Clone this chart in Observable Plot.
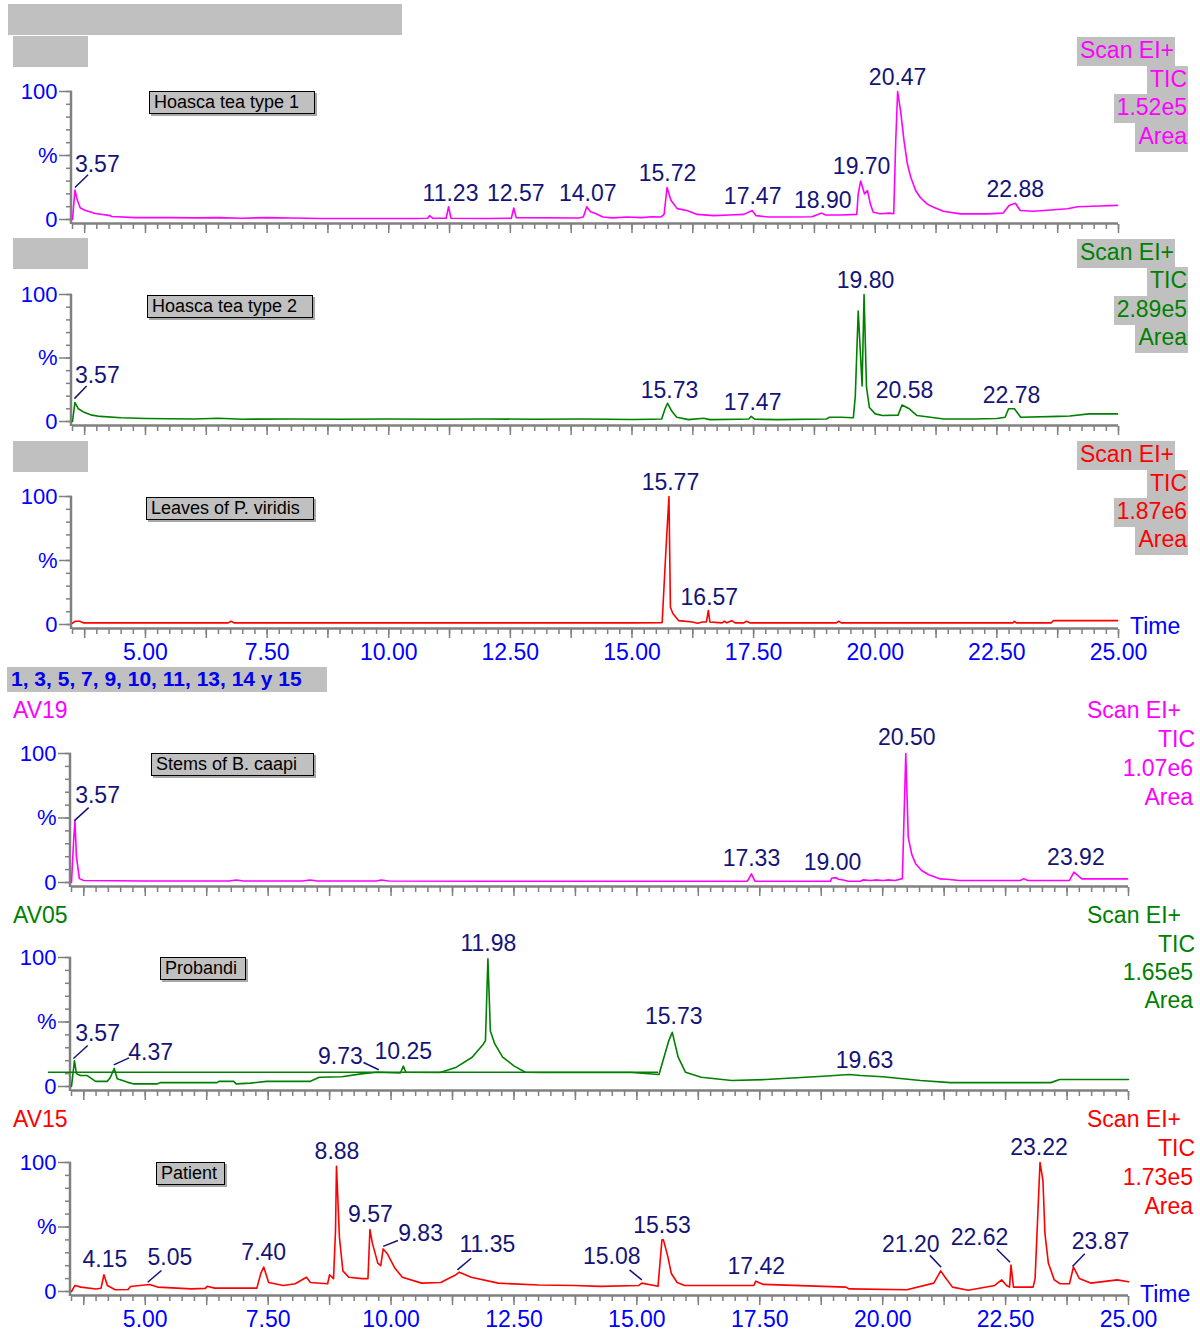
<!DOCTYPE html>
<html><head><meta charset="utf-8">
<script src="https://cdn.jsdelivr.net/npm/d3@7"></script>
<script src="https://cdn.jsdelivr.net/npm/@observablehq/plot@0.6"></script>
<style>
body{margin:0;background:#fff;font-family:"Liberation Sans",Arial,sans-serif;}
#root{position:relative;width:1200px;height:1333px;overflow:hidden;background:#fff;}
#root svg{position:absolute;left:0;}
.abs{position:absolute;white-space:nowrap;}
</style></head><body><div id="root"></div>
<script>
// ---------- DATA (time in min, intensity in %) ----------
const hoasca1 = [[3.50,0],[3.55,23],[3.60,15],[3.66,9],[3.77,7],[3.97,4.7],[4.28,3],[4.30,2.3],[4.80,1.5],[5.5,1.5],[6.0,1.3],[6.5,1.5],[7.0,1.0],[7.5,1.5],[8.0,1.2],[8.6,0.8],[9.5,0.8],[10.5,0.8],[10.80,1.0],[10.84,3],[10.90,1],[11.18,1],[11.23,10],[11.28,1],[12.0,0.8],[12.52,1],[12.57,9],[12.62,1.5],[13.9,1.2],[14.0,2],[14.07,10],[14.15,6],[14.25,4.7],[14.4,2],[14.6,1.3],[14.9,2],[15.2,1.5],[15.4,2.2],[15.6,2],[15.66,4],[15.72,25],[15.80,15],[15.93,8.5],[16.13,7],[16.34,4],[16.68,3],[17.0,3.5],[17.3,4],[17.47,7],[17.55,3],[17.8,2],[18.3,2],[18.7,2.2],[18.90,5],[18.98,3.5],[19.3,3.5],[19.62,4],[19.65,20],[19.70,30],[19.78,20],[19.84,22.6],[19.90,12],[19.96,5.7],[20.1,4.5],[20.3,5],[20.38,4.5],[20.42,60],[20.46,100],[20.52,85],[20.59,62],[20.66,43.5],[20.73,33],[20.83,22.6],[20.93,17],[21.07,12],[21.20,9.6],[21.40,6.5],[21.75,4.4],[22.30,4.4],[22.63,5],[22.75,11],[22.88,12.7],[22.98,7],[23.25,6.5],[23.95,8.4],[24.16,10],[24.6,10.5],[24.98,11]];
const hoasca2 = [[3.50,0],[3.55,15],[3.62,10],[3.75,7],[3.9,5],[4.07,4],[4.5,3],[5.0,2.4],[6.0,2],[6.5,2.6],[7.0,1.8],[8.0,2],[9.0,1.8],[10.0,2],[11.0,1.8],[12.0,2],[13.0,1.8],[14.0,2],[15.0,1.6],[15.4,1.8],[15.61,2],[15.68,10],[15.73,14.4],[15.82,8],[15.92,3.4],[16.16,1.5],[16.47,2.5],[16.6,1.5],[17.2,1.8],[17.4,2],[17.45,4],[17.52,1.8],[18.0,1.5],[19.0,2],[19.06,3.4],[19.3,3.4],[19.55,3],[19.59,20],[19.65,87],[19.73,28],[19.77,100],[19.82,27],[19.88,11],[20.0,6],[20.15,4.7],[20.47,5],[20.55,13],[20.70,10],[20.86,4.7],[21.41,2],[22.0,2],[22.5,2.4],[22.67,3.4],[22.74,10],[22.86,10],[22.99,3.4],[23.77,4],[24.0,4.3],[24.39,6],[24.98,6]];
const leaves = [[3.50,1],[3.55,2.5],[3.65,2.5],[3.72,1.3],[5.0,1.3],[6.7,1.3],[6.76,2.5],[6.82,1.3],[9.0,1.3],[12.0,1.3],[15.0,1.3],[15.62,1.5],[15.70,60],[15.76,100],[15.79,13.5],[15.84,8.6],[15.96,3],[16.24,2],[16.35,1],[16.45,2],[16.53,2],[16.57,11],[16.60,2],[16.85,1.3],[16.9,2.5],[16.95,1.3],[17.05,3],[17.12,1.3],[17.3,1.3],[17.35,2.5],[17.42,1.3],[19.2,1.3],[19.25,2.5],[19.3,1.3],[22.83,1.3],[22.86,2.5],[22.9,1.3],[23.62,1.3],[23.66,3],[24.98,3]];
const stems = [[3.50,0],[3.54,30],[3.57,48],[3.60,20],[3.66,3],[3.75,1.5],[5.0,1.2],[6.7,1.2],[6.85,2],[7.0,1.2],[8.2,1.2],[8.35,2],[8.5,1.2],[9.7,1.2],[9.8,2],[9.95,1.2],[12.0,1],[15.0,1],[17.25,1],[17.33,6.7],[17.40,1],[18.94,1],[18.96,3.3],[19.05,3.8],[19.1,2.5],[19.2,2],[19.3,1],[19.55,1],[19.6,2],[19.75,1.5],[19.85,2],[20.0,1.5],[20.1,2],[20.25,1.5],[20.40,3],[20.47,100],[20.52,35],[20.59,22],[20.67,14.5],[20.79,9.3],[20.94,6],[21.17,2.8],[21.3,2.5],[21.56,1.6],[22.8,1.6],[22.87,3],[22.95,1.6],[23.8,1.6],[23.89,8],[24.05,2.8],[24.98,2.8]];
const probandi = [[3.50,0],[3.56,20],[3.60,10],[3.68,8.5],[3.82,8.5],[3.99,4],[4.23,4],[4.29,7],[4.37,14],[4.43,6],[4.63,3.4],[4.77,2],[5.24,2],[5.3,3],[6.46,3],[6.5,4],[6.8,4],[6.85,2],[7.14,2.6],[7.47,4],[8.36,4],[8.54,7.2],[9.0,7.5],[9.39,9.8],[9.71,11],[10.19,10.5],[10.25,15.8],[10.30,11],[11.0,10.8],[11.33,15],[11.65,22.7],[11.88,33],[11.92,35.6],[11.97,99],[12.02,43],[12.11,33],[12.27,22.7],[12.50,16],[12.73,11],[13.04,10.8],[14.0,10.8],[14.90,10.8],[15.45,9.3],[15.65,35.6],[15.72,42],[15.84,22.7],[15.99,11],[16.31,7.2],[16.93,4.6],[17.62,5.4],[18.79,8],[19.32,9.3],[19.55,8.5],[20.0,7.5],[20.77,4.6],[21.38,3],[23.42,3],[23.6,5.4],[25.0,5.4]];
const probandiBaseline = [{y:11.1, x1:3.03, x2:15.44}];
const patient = [[3.50,0],[3.57,4.7],[3.69,3.4],[4.0,2],[4.10,2.5],[4.16,13],[4.23,4.7],[4.39,1.3],[4.65,1.5],[4.70,3.9],[5.09,5.4],[5.25,3.4],[5.94,2],[6.22,2.4],[6.26,4],[6.41,2.6],[7.27,2.6],[7.35,14],[7.41,19],[7.51,7],[7.81,4.7],[8.05,6],[8.28,11],[8.36,7],[8.71,6],[8.75,13],[8.83,10],[8.87,47],[8.89,97],[8.95,42],[9.02,16],[9.14,11],[9.41,10],[9.53,10],[9.57,48],[9.62,37.5],[9.73,22],[9.79,20],[9.84,33],[9.92,29.5],[10.08,18],[10.23,11],[10.62,6.5],[11.01,7],[11.32,13],[11.39,15],[11.63,11],[12.18,6.5],[13.0,5],[13.73,4.7],[14.26,4],[15.04,4.7],[15.10,6.5],[15.43,4],[15.51,40],[15.54,40],[15.63,27],[15.70,14],[15.82,7],[15.97,4.7],[17.38,4.7],[17.42,8],[17.57,5.5],[19.25,3.4],[19.32,2],[20.49,1.3],[21.04,6.5],[21.18,16],[21.27,11],[21.42,3.4],[21.74,1],[22.28,4.7],[22.42,9],[22.52,4.7],[22.58,3.4],[22.61,20.5],[22.66,3.4],[23.06,3.4],[23.10,10],[23.20,100],[23.26,86],[23.30,45],[23.37,22],[23.49,9],[23.61,6],[23.80,6],[23.88,19],[24.0,10],[24.23,6.5],[24.77,9],[25.0,7.5]];

// peak labels (position of text centre) and leader lines
const labels1 = [{text:"3.57",x:4.01,y:43},{text:"11.23",x:11.27,y:20},{text:"12.57",x:12.61,y:20},{text:"14.07",x:14.09,y:20},{text:"15.72",x:15.73,y:36},{text:"17.47",x:17.48,y:18},{text:"18.90",x:18.92,y:15},{text:"19.70",x:19.72,y:41},{text:"20.47",x:20.46,y:111},{text:"22.88",x:22.88,y:23.4}];
const leaders1 = [{x1:3.55,y1:25,x2:3.82,y2:35}];
const labels2 = [{text:"3.57",x:4.01,y:36},{text:"15.73",x:15.77,y:24},{text:"17.47",x:17.48,y:15},{text:"19.80",x:19.80,y:111},{text:"20.58",x:20.60,y:24},{text:"22.78",x:22.80,y:20.5}];
const leaders2 = [{x1:3.54,y1:18,x2:3.79,y2:28}];
const labels3 = [{text:"15.77",x:15.79,y:111},{text:"16.57",x:16.59,y:21}];
const leaders3 = [];
const labels4 = [{text:"3.57",x:4.03,y:67},{text:"17.33",x:17.33,y:18.6},{text:"19.00",x:18.98,y:15.5},{text:"20.50",x:20.49,y:112},{text:"23.92",x:23.93,y:19.4}];
const leaders4 = [{x1:3.56,y1:48,x2:3.85,y2:58}];
const labels5 = [{text:"3.57",x:4.03,y:41},{text:"4.37",x:5.11,y:26},{text:"9.73",x:8.97,y:23.5},{text:"10.25",x:10.25,y:27},{text:"11.98",x:11.98,y:111},{text:"15.73",x:15.75,y:54},{text:"19.63",x:19.63,y:20}];
const leaders5 = [{x1:3.54,y1:21.7,x2:3.83,y2:31.8},{x1:4.36,y1:16.8,x2:4.67,y2:22.2},{x1:9.44,y1:18.6,x2:9.75,y2:13}];
const labels6 = [{text:"4.15",x:4.18,y:24.8},{text:"5.05",x:5.50,y:26.4},{text:"7.40",x:7.41,y:30},{text:"8.88",x:8.90,y:108.6},{text:"9.57",x:9.58,y:59.7},{text:"9.83",x:10.6,y:44.5},{text:"11.35",x:11.96,y:36.4},{text:"15.08",x:14.49,y:27},{text:"15.53",x:15.51,y:51},{text:"17.42",x:17.43,y:19.5},{text:"21.20",x:20.57,y:36.6},{text:"22.62",x:21.97,y:41.6},{text:"23.22",x:23.18,y:111.8},{text:"23.87",x:24.43,y:39}];
const leaders6 = [{x1:5.05,y1:7.2,x2:5.33,y2:16.3},{x1:9.84,y1:35,x2:10.14,y2:39.5},{x1:11.35,y1:16.8,x2:11.63,y2:25.8},{x1:15.10,y1:9,x2:14.85,y2:16.8},{x1:21.19,y1:18.8,x2:20.96,y2:28},{x1:22.59,y1:22.7,x2:22.32,y2:33},{x1:23.86,y1:19.4,x2:24.11,y2:29.2}];

// axis tick values / labels
const xTickLabels = [5, 7.5, 10, 12.5, 15, 17.5, 20, 22.5, 25];
const yTickLabels = [[0,"0"],[50,"%"],[100,"100"]];
const minorX = d3.range(3.5, 25.001, 0.25);
const majorX = d3.range(3.75, 25.001, 1.25);
const minorY = d3.range(0, 100.1, 10);

const sampleNames = ["Hoasca tea type 1","Hoasca tea type 2","Leaves of P. viridis","Stems of B. caapi","Probandi","Patient"];
const rightTexts = [["Scan EI+","TIC","1.52e5","Area"],["Scan EI+","TIC","2.89e5","Area"],["Scan EI+","TIC","1.87e6","Area"],["Scan EI+","TIC","1.07e6","Area"],["Scan EI+","TIC","1.65e5","Area"],["Scan EI+","TIC","1.73e5","Area"]];
const groupCodes = ["AV19","AV05","AV15"];
const selectionLabel = "1, 3, 5, 7, 9, 10, 11, 13, 14 y 15";

// ---------- STYLE / LAYOUT ----------
const MAG="#ff00ff", GRN="#008000", RED="#ff0000", NAVY="#141478", BLUE="#0000ff", AX="#808080", GRAY="#c0c0c0";
const FONT = '"Liberation Sans", Arial, sans-serif';
const panels = [
  {data:hoasca1, color:MAG, y100:91,  y0:219,  ml:72, xr:1118, labels:labels1, leaders:leaders1, box:[149,91,166], xaxis:false},
  {data:hoasca2, color:GRN, y100:294, y0:421,  ml:72, xr:1118, labels:labels2, leaders:leaders2, box:[147,295,166], xaxis:false},
  {data:leaves,  color:RED, y100:496, y0:624,  ml:72, xr:1118, labels:labels3, leaders:leaders3, box:[146,497,168], xaxis:true},
  {data:stems,   color:MAG, y100:753, y0:882,  ml:71, xr:1128, labels:labels4, leaders:leaders4, box:[151,753,163], xaxis:false},
  {data:probandi,color:GRN, y100:957, y0:1086, ml:71, xr:1128, labels:labels5, leaders:leaders5, box:[160,957,86], xaxis:false, baseline:probandiBaseline},
  {data:patient, color:RED, y100:1162,y0:1291, ml:71, xr:1128, labels:labels6, leaders:leaders6, box:[156,1162,69], xaxis:true}
];

const root = document.getElementById("root");

function makePanel(p) {
  const mt = 45, mb = 45;
  const H = mt + (p.y0 - p.y100) + mb;
  const ppp = (p.y0 - p.y100) / 100;
  const pc = px => -px / ppp;
  const marks = [
    Plot.ruleY([0], {dy: 4, stroke: AX, strokeWidth: 2.5}),
    Plot.ruleX(minorX, {y1: pc(5), y2: pc(10), stroke: AX, strokeWidth: 1.5}),
    Plot.ruleX(majorX, {y1: pc(5), y2: pc(14), stroke: AX, strokeWidth: 1.5}),
    Plot.ruleX([3.5], {y1: pc(5), y2: 100, dx: -1.5, stroke: AX, strokeWidth: 2.5}),
    Plot.axisY({ticks: minorY, tickSize: 6, tickFormat: () => "", stroke: AX, strokeWidth: 1.5}),
    Plot.axisY({ticks: yTickLabels.map(d => d[0]), tickSize: 13, tickPadding: 2,
      tickFormat: v => yTickLabels.find(d => d[0] === v)[1], stroke: AX, strokeWidth: 1.5, color: BLUE, fontSize: 22}),
  ];
  if (p.baseline) marks.push(Plot.ruleY(p.baseline, {y: "y", x1: "x1", x2: "x2", stroke: p.color, strokeWidth: 1.5}));
  marks.push(
    Plot.line(p.data, {x: d => d[0], y: d => d[1], stroke: p.color, strokeWidth: 1.6}),
    Plot.link(p.leaders, {x1: "x1", y1: "y1", x2: "x2", y2: "y2", stroke: NAVY, strokeWidth: 1.5}),
    Plot.text(p.labels, {x: "x", y: "y", text: "text", fill: NAVY, fontSize: 23})
  );
  if (p.xaxis) marks.push(Plot.axisX({ticks: xTickLabels, tickSize: 0, tickPadding: 19, tickFormat: d3.format(".2f"), color: BLUE, fontSize: 23}));
  const svg = Plot.plot({
    width: 1200, height: H,
    marginLeft: p.ml, marginRight: 1200 - p.xr, marginTop: mt, marginBottom: mb,
    x: {domain: [3.5, 25], axis: null, label: null},
    y: {domain: [0, 100], axis: null, label: null},
    style: {background: "transparent", overflow: "visible", fontFamily: FONT, fontSize: "22px"},
    marks
  });
  svg.style.top = (p.y100 - mt) + "px";
  root.appendChild(svg);
}
panels.forEach(makePanel);

function div(css, text) {
  const d = document.createElement("div");
  d.className = "abs";
  Object.assign(d.style, css);
  if (text != null) d.textContent = text;
  root.appendChild(d);
  return d;
}

// header grey bars
div({left:"8px", top:"4px", width:"394px", height:"31px", background:GRAY});
[36, 238, 441].forEach(t => div({left:"13px", top:t+"px", width:"75px", height:"31px", background:GRAY}));

// sample name boxes
panels.forEach((p, i) => {
  const [x, y, w] = p.box;
  div({left:x+"px", top:y+"px", width:(w-6)+"px", height:"21px", background:GRAY, border:"1px solid #000",
       boxShadow:"2px 2px 0 #a8a8a8", font:`18px ${FONT}`, lineHeight:"21px", paddingLeft:"4px", boxSizing:"content-box", color:"#000"}, sampleNames[i]);
});

// right-side labels
const topCenters = [[51,80,108.5,137],[253,281,310,338],[455,484,512,540]];
const topRights = [1175, 1188, 1188, 1188];
[0,1,2].forEach(i => {
  rightTexts[i].forEach((t, j) => {
    const c = topCenters[i][j];
    div({right:(1200 - topRights[j])+"px", top:(c-14.5)+"px", height:"29px", lineHeight:"29px", padding:"0 1px 0 3px",
         background:GRAY, color:panels[i].color, font:`23px ${FONT}`}, t);
  });
});
const botCenters = [[711,740,769,798],[916,945,973,1001],[1120,1149,1178,1207]];
const botRights = [1181, 1195, 1193, 1193];
[3,4,5].forEach((i, k) => {
  rightTexts[i].forEach((t, j) => {
    const c = botCenters[k][j];
    div({right:(1200 - botRights[j])+"px", top:(c-14)+"px", height:"28px", lineHeight:"28px",
         color:panels[i].color, font:`23px ${FONT}`}, t);
  });
  div({left:"13px", top:(botCenters[k][0]-14)+"px", height:"28px", lineHeight:"28px", color:panels[i].color, font:`23px ${FONT}`}, groupCodes[k]);
});

// "Time" labels
div({left:"1130px", top:(627-14)+"px", height:"28px", lineHeight:"28px", color:BLUE, font:`23px ${FONT}`}, "Time");
div({left:"1140px", top:(1295-14)+"px", height:"28px", lineHeight:"28px", color:BLUE, font:`23px ${FONT}`}, "Time");

// selection label
div({left:"7px", top:"667px", width:"316px", height:"25px", lineHeight:"25px", background:GRAY, color:"#0000ee",
     font:`bold 21px ${FONT}`, paddingLeft:"4px"}, selectionLabel);
</script></body></html>
